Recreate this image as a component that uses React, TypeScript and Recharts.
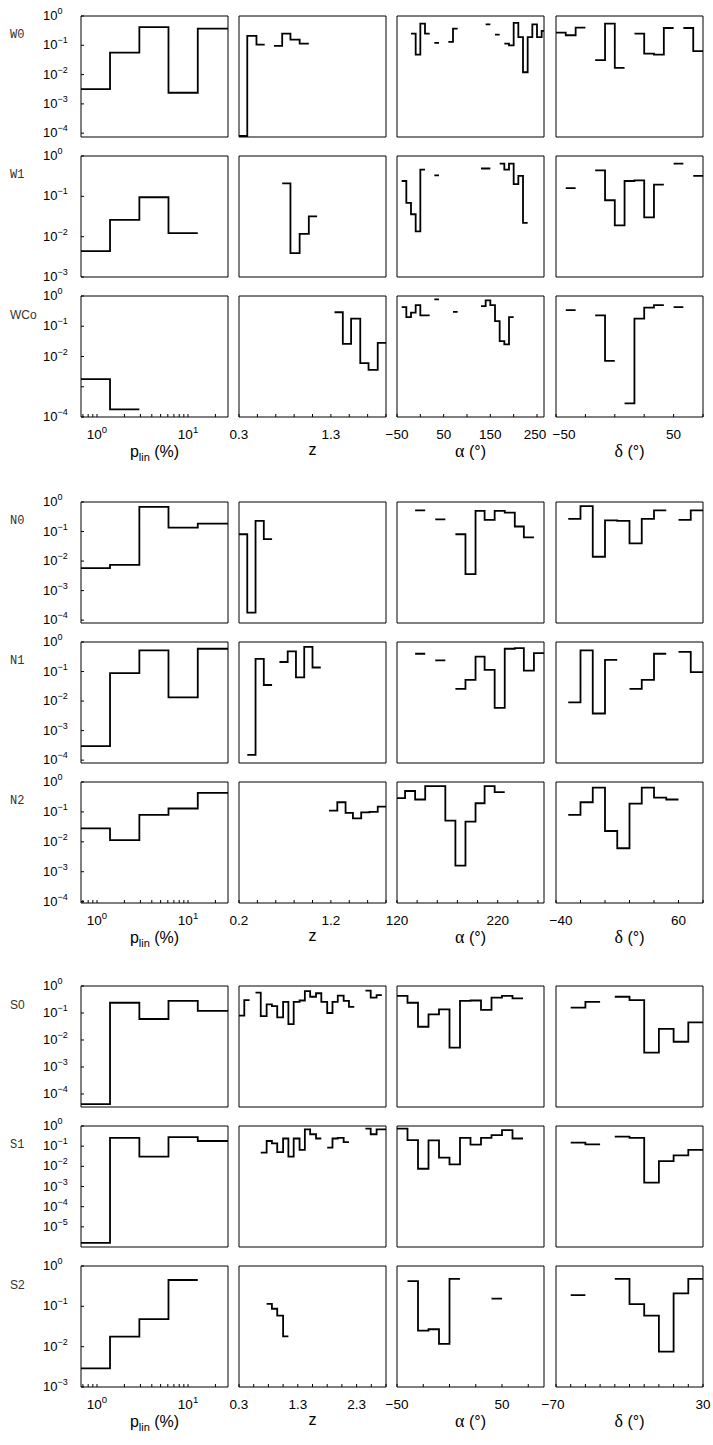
import React from "react";
import { LineChart, Line, XAxis, YAxis } from "recharts";

type Bin = [number, number, number];
type Ax = { domain: [number, number]; ticks: number[]; labels: number[]; log?: boolean; nudge?: [number, number][] };
type Yc = { domain: [number, number]; ticks: number[]; labels: number[] };

const SANS = "'Liberation Sans', Arial, Helvetica, sans-serif";
const MONO = "'Liberation Mono', 'DejaVu Sans Mono', monospace";
const SERIF = "'Liberation Serif', 'DejaVu Serif', serif";

// panel geometry
const PW = 147;
const PH = 121;
const COL_X = [81, 239, 397, 556];
const LW = 62;
const RW = 10;
const TH = 14;
const BH = 44;
const AXIS = { stroke: "#000", strokeWidth: 1 };

// ---- x axes ----
const PLIN_TICKS = [0.7, 0.8, 0.9, 1, 2, 3, 4, 5, 6, 7, 8, 9, 10, 20];
const PLIN_LABELS = [1, 10];

const W_Z_TICKS = [0.3, 0.5, 0.7, 0.9, 1.1, 1.3, 1.5, 1.7, 1.9];
const W_Z_LABELS = [0.3, 1.3];
const W_A_TICKS = [-50, 0, 50, 100, 150, 200, 250];
const W_A_LABELS = [-50, 50, 150, 250];
const W_D_TICKS = [-50, -25, 0, 25, 50, 75];
const W_D_LABELS = [-50, 50];

const N_Z_TICKS = [0.2, 0.4, 0.6, 0.8, 1.0, 1.2, 1.4, 1.6, 1.8];
const N_Z_LABELS = [0.2, 1.2];
const N_A_TICKS = [120, 140, 160, 180, 200, 220, 240, 260];
const N_A_LABELS = [120, 220];
const N_D_TICKS = [-40, -20, 0, 20, 40, 60, 80];
const N_D_LABELS = [-40, 60];

const S_Z_TICKS = [0.3, 0.55, 0.8, 1.05, 1.3, 1.55, 1.8, 2.05, 2.3, 2.55, 2.8];
const S_Z_LABELS = [0.3, 1.3, 2.3];
const S_A_TICKS = [-50, -25, 0, 25, 50, 75];
const S_A_LABELS = [-50, 50];
const S_D_TICKS = [-70, -60, -50, -40, -30, -20, -10, 0, 10, 20, 30];
const S_D_LABELS = [-70, 30];

// ---- y axes (log) ----
const DEC3 = [1, 0.1, 0.01, 1e-3];
const DEC4 = [1, 0.1, 0.01, 1e-3, 1e-4];
const DEC5 = [1, 0.1, 0.01, 1e-3, 1e-4, 1e-5];
const WCO_YLABELS = [1, 0.1, 0.01, 1e-4];

// ---- histogram bins: [from, to, fraction] ----
const W0_p: Bin[] = [[0.667, 1.39, 3.2e-3], [1.39, 2.92, 0.056], [2.92, 6.1, 0.42], [6.1, 12.8, 2.4e-3], [12.8, 27.5, 0.37]];
const W0_z: Bin[] = [[0.3, 0.39, 8e-5], [0.39, 0.49, 0.21], [0.49, 0.58, 0.105], [0.68, 0.77, 0.095], [0.77, 0.86, 0.25], [0.86, 0.96, 0.155], [0.96, 1.06, 0.114]];
const W0_a: Bin[] = [[-20, -10, 0.25], [-10, 0, 0.048], [0, 10, 0.55], [10, 20, 0.25], [30, 40, 0.12], [60, 70, 0.13], [70, 80, 0.37], [140, 150, 0.52], [160, 170, 0.23], [180, 190, 0.114], [190, 200, 0.1], [200, 210, 0.58], [210, 220, 0.19], [220, 230, 0.012], [230, 240, 0.19], [240, 250, 0.52], [250, 260, 0.19], [260, 270, 0.31]];
const W0_d: Bin[] = [[-50, -41.7, 0.27], [-41.7, -33.3, 0.22], [-33.3, -25, 0.4], [-16.7, -8.3, 0.031], [-8.3, 0, 0.55], [0, 8.3, 0.017], [16.7, 25, 0.25], [25, 33.3, 0.052], [33.3, 41.7, 0.048], [41.7, 50, 0.39], [58.3, 66.7, 0.39], [66.7, 75, 0.063]];

const W1_p: Bin[] = [[0.667, 1.39, 4.4e-3], [1.39, 2.92, 0.026], [2.92, 6.1, 0.095], [6.1, 12.8, 0.0123]];
const W1_z: Bin[] = [[0.77, 0.86, 0.21], [0.86, 0.96, 3.9e-3], [0.96, 1.06, 0.0117], [1.06, 1.15, 0.032]];
const W1_a: Bin[] = [[-40, -30, 0.24], [-30, -20, 0.069], [-20, -10, 0.036], [-10, 0, 0.0135], [0, 10, 0.46], [30, 40, 0.33], [130, 150, 0.49], [170, 180, 0.65], [180, 190, 0.46], [190, 200, 0.65], [200, 210, 0.2], [210, 220, 0.32], [220, 230, 0.022]];
const W1_d: Bin[] = [[-41.7, -33.3, 0.16], [-16.7, -8.3, 0.44], [-8.3, 0, 0.08], [0, 8.3, 0.019], [8.3, 16.7, 0.24], [16.7, 25, 0.25], [25, 33.3, 0.03], [33.3, 41.7, 0.195], [50, 58.3, 0.65], [66.7, 75, 0.32]];

const WCo_p: Bin[] = [[0.667, 1.39, 1.8e-3], [1.39, 2.92, 1.8e-4]];
const WCo_z: Bin[] = [[1.34, 1.43, 0.29], [1.43, 1.52, 0.026], [1.52, 1.62, 0.18], [1.62, 1.71, 6e-3], [1.71, 1.81, 3.6e-3], [1.81, 1.9, 0.028]];
const WCo_a: Bin[] = [[-40, -30, 0.43], [-30, -20, 0.2], [-20, -10, 0.28], [-10, 0, 0.5], [0, 20, 0.23], [30, 40, 0.77], [70, 80, 0.3], [130, 140, 0.46], [140, 150, 0.72], [150, 160, 0.5], [160, 170, 0.147], [170, 180, 0.032], [180, 190, 0.025], [190, 200, 0.2]];
const WCo_d: Bin[] = [[-41.7, -33.3, 0.34], [-16.7, -8.3, 0.23], [-8.3, 0, 7.2e-3], [8.3, 16.7, 2.8e-4], [16.7, 25, 0.18], [25, 33.3, 0.41], [33.3, 41.7, 0.5], [50, 58.3, 0.43]];

const N0_p: Bin[] = [[0.667, 1.39, 5.8e-3], [1.39, 2.92, 7.4e-3], [2.92, 6.1, 0.68], [6.1, 12.8, 0.136], [12.8, 27.5, 0.186]];
const N0_z: Bin[] = [[0.2, 0.29, 0.081], [0.29, 0.38, 1.8e-4], [0.38, 0.47, 0.23], [0.47, 0.56, 0.055]];
const N0_a: Bin[] = [[138, 148, 0.52], [158, 168, 0.26], [178, 188, 0.081], [188, 198, 3.6e-3], [198, 207, 0.5], [207, 217, 0.25], [217, 227, 0.5], [227, 237, 0.44], [237, 246, 0.148], [246, 256, 0.063]];
const N0_d: Bin[] = [[-30, -20, 0.27], [-20, -10, 0.73], [-10, 0, 0.014], [0, 10, 0.24], [10, 20, 0.23], [20, 30, 0.04], [30, 40, 0.27], [40, 50, 0.52], [60, 70, 0.25], [70, 80, 0.52]];

const N1_p: Bin[] = [[0.667, 1.39, 3e-4], [1.39, 2.92, 0.088], [2.92, 6.1, 0.52], [6.1, 12.8, 0.0133], [12.8, 27.5, 0.59]];
const N1_z: Bin[] = [[0.29, 0.38, 1.5e-4], [0.38, 0.47, 0.27], [0.47, 0.56, 0.035], [0.64, 0.73, 0.21], [0.73, 0.82, 0.48], [0.82, 0.91, 0.063], [0.91, 1.0, 0.68], [1.0, 1.09, 0.137]];
const N1_a: Bin[] = [[138, 148, 0.4], [158, 168, 0.24], [178, 188, 0.026], [188, 198, 0.052], [198, 207, 0.32], [207, 217, 0.114], [217, 227, 5.9e-3], [227, 237, 0.59], [237, 246, 0.62], [246, 256, 0.108], [256, 266, 0.42]];
const N1_d: Bin[] = [[-30, -20, 9e-3], [-20, -10, 0.52], [-10, 0, 3.8e-3], [0, 10, 0.25], [20, 30, 0.026], [30, 40, 0.052], [40, 50, 0.4], [60, 70, 0.46], [70, 80, 0.095]];

const N2_p: Bin[] = [[0.667, 1.39, 0.028], [1.39, 2.92, 0.0114], [2.92, 6.1, 0.079], [6.1, 12.8, 0.13], [12.8, 27.5, 0.43]];
const N2_z: Bin[] = [[1.18, 1.27, 0.11], [1.27, 1.36, 0.21], [1.36, 1.44, 0.093], [1.44, 1.53, 0.061], [1.53, 1.62, 0.097], [1.62, 1.71, 0.1], [1.71, 1.8, 0.15]];
const N2_a: Bin[] = [[120, 128, 0.29], [128, 138, 0.5], [138, 148, 0.26], [148, 168, 0.73], [168, 178, 0.051], [178, 188, 1.6e-3], [188, 198, 0.047], [198, 207, 0.195], [207, 217, 0.73], [217, 227, 0.46]];
const N2_d: Bin[] = [[-30, -20, 0.079], [-20, -10, 0.21], [-10, 0, 0.65], [0, 10, 0.023], [10, 20, 6.1e-3], [20, 30, 0.19], [30, 40, 0.65], [40, 50, 0.3], [50, 60, 0.26]];

const S0_p: Bin[] = [[0.667, 1.39, 4.2e-5], [1.39, 2.92, 0.24], [2.92, 6.1, 0.06], [6.1, 12.8, 0.28], [12.8, 27.5, 0.12]];
const S0_z: Bin[] = [[0.3, 0.39, 0.08], [0.39, 0.48, 0.3], [0.58, 0.67, 0.57], [0.67, 0.77, 0.077], [0.77, 0.86, 0.21], [0.86, 0.95, 0.18], [0.95, 1.05, 0.069], [1.05, 1.14, 0.26], [1.14, 1.23, 0.039], [1.23, 1.33, 0.26], [1.33, 1.42, 0.29], [1.42, 1.51, 0.65], [1.51, 1.61, 0.4], [1.61, 1.7, 0.54], [1.7, 1.8, 0.26], [1.8, 1.89, 0.1], [1.89, 1.98, 0.26], [1.98, 2.08, 0.44], [2.08, 2.17, 0.28], [2.17, 2.26, 0.17], [2.45, 2.54, 0.67], [2.54, 2.64, 0.37], [2.64, 2.73, 0.46]];
const S0_a: Bin[] = [[-50, -40, 0.43], [-40, -30, 0.24], [-30, -20, 0.031], [-20, -10, 0.089], [-10, 0, 0.137], [0, 10, 5.2e-3], [10, 20, 0.28], [20, 30, 0.29], [30, 40, 0.13], [40, 50, 0.37], [50, 60, 0.43], [60, 70, 0.35]];
const S0_d: Bin[] = [[-60, -50, 0.158], [-50, -40, 0.26], [-30, -20, 0.4], [-20, -10, 0.3], [-10, 0, 3.4e-3], [0, 10, 0.026], [10, 20, 8.6e-3], [20, 30, 0.045]];

const S1_p: Bin[] = [[0.667, 1.39, 1.6e-6], [1.39, 2.92, 0.26], [2.92, 6.1, 0.03], [6.1, 12.8, 0.28], [12.8, 27.5, 0.18]];
const S1_z: Bin[] = [[0.67, 0.77, 0.048], [0.77, 0.86, 0.18], [0.86, 0.95, 0.138], [0.95, 1.05, 0.051], [1.05, 1.14, 0.24], [1.14, 1.23, 0.03], [1.23, 1.33, 0.24], [1.33, 1.42, 0.065], [1.42, 1.51, 0.68], [1.51, 1.61, 0.39], [1.61, 1.7, 0.24], [1.8, 1.89, 0.085], [1.89, 1.98, 0.24], [1.98, 2.08, 0.26], [2.08, 2.17, 0.16], [2.45, 2.54, 0.74], [2.54, 2.64, 0.39], [2.64, 2.8, 0.68]];
const S1_a: Bin[] = [[-50, -40, 0.74], [-40, -30, 0.2], [-30, -20, 7.6e-3], [-20, -10, 0.195], [-10, 0, 0.027], [0, 10, 0.0126], [10, 20, 0.26], [20, 30, 0.12], [30, 40, 0.26], [40, 50, 0.35], [50, 60, 0.63], [60, 70, 0.24]];
const S1_d: Bin[] = [[-60, -50, 0.149], [-50, -40, 0.123], [-30, -20, 0.3], [-20, -10, 0.26], [-10, 0, 1.55e-3], [0, 10, 0.018], [10, 20, 0.035], [20, 30, 0.065]];

const S2_p: Bin[] = [[0.667, 1.39, 2.9e-3], [1.39, 2.92, 0.0178], [2.92, 6.1, 0.048], [6.1, 12.8, 0.45]];
const S2_z: Bin[] = [[0.77, 0.86, 0.115], [0.86, 0.95, 0.087], [0.95, 1.05, 0.059], [1.05, 1.14, 0.018]];
const S2_a: Bin[] = [[-40, -30, 0.42], [-30, -20, 0.025], [-20, -10, 0.027], [-10, 0, 0.0117], [0, 10, 0.48], [40, 50, 0.155]];
const S2_d: Bin[] = [[-60, -50, 0.19], [-30, -20, 0.48], [-20, -10, 0.114], [-10, 0, 0.059], [0, 10, 7.5e-3], [10, 20, 0.21], [20, 30, 0.48]];

// axis sets per group (nudge = small label offsets where neighbouring labels meet)
const PLIN_AX: Ax = { domain: [0.667, 27.5], ticks: PLIN_TICKS, labels: PLIN_LABELS, log: true };
const W_AXES: Ax[] = [
  PLIN_AX,
  { domain: [0.3, 1.9], ticks: W_Z_TICKS, labels: W_Z_LABELS },
  { domain: [-50, 265], ticks: W_A_TICKS, labels: W_A_LABELS, nudge: [[250, -2]] },
  { domain: [-50, 75], ticks: W_D_TICKS, labels: W_D_LABELS, nudge: [[-50, 8]] },
];
const N_AXES: Ax[] = [
  PLIN_AX,
  { domain: [0.2, 1.8], ticks: N_Z_TICKS, labels: N_Z_LABELS },
  { domain: [120, 266], ticks: N_A_TICKS, labels: N_A_LABELS },
  { domain: [-40, 80], ticks: N_D_TICKS, labels: N_D_LABELS, nudge: [[-40, 5]] },
];
const S_AXES: Ax[] = [
  PLIN_AX,
  { domain: [0.3, 2.8], ticks: S_Z_TICKS, labels: S_Z_LABELS },
  { domain: [-50, 90], ticks: S_A_TICKS, labels: S_A_LABELS },
  { domain: [-70, 30], ticks: S_D_TICKS, labels: S_D_LABELS, nudge: [[-70, -3]] },
];

const ROWS = [
  { name: "W0", font: MONO, top: 16, axes: W_AXES, last: false, bins: [W0_p, W0_z, W0_a, W0_d], y: { domain: [7.4e-5, 1], ticks: DEC4, labels: DEC4 } },
  { name: "W1", font: MONO, top: 156, axes: W_AXES, last: false, bins: [W1_p, W1_z, W1_a, W1_d], y: { domain: [1e-3, 1], ticks: DEC3, labels: DEC3 } },
  { name: "WCo", font: SANS, top: 296, axes: W_AXES, last: true, bins: [WCo_p, WCo_z, WCo_a, WCo_d], y: { domain: [1e-4, 1], ticks: DEC4, labels: WCO_YLABELS } },
  { name: "N0", font: MONO, top: 502, axes: N_AXES, last: false, bins: [N0_p, N0_z, N0_a, N0_d], y: { domain: [8e-5, 1], ticks: DEC4, labels: DEC4 } },
  { name: "N1", font: MONO, top: 642, axes: N_AXES, last: false, bins: [N1_p, N1_z, N1_a, N1_d], y: { domain: [8e-5, 1], ticks: DEC4, labels: DEC4 } },
  { name: "N2", font: MONO, top: 782, axes: N_AXES, last: true, bins: [N2_p, N2_z, N2_a, N2_d], y: { domain: [9e-5, 1], ticks: DEC4, labels: DEC4 } },
  { name: "S0", font: SANS, top: 986, axes: S_AXES, last: false, bins: [S0_p, S0_z, S0_a, S0_d], y: { domain: [3.3e-5, 1], ticks: DEC4, labels: DEC4 } },
  { name: "S1", font: MONO, top: 1126, axes: S_AXES, last: false, bins: [S1_p, S1_z, S1_a, S1_d], y: { domain: [1e-6, 1], ticks: DEC5, labels: DEC5 } },
  { name: "S2", font: SANS, top: 1266, axes: S_AXES, last: true, bins: [S2_p, S2_z, S2_a, S2_d], y: { domain: [1e-3, 1], ticks: DEC3, labels: DEC3 } },
];

const GROUP_BOTTOMS = [417, 903, 1387];

function toSteps(bins: Bin[]) {
  const pts: { x: number; y: number | null }[] = [];
  bins.forEach(([a, b, v], i) => {
    const prev = bins[i - 1];
    if (prev && prev[1] !== a) pts.push({ x: prev[1], y: null });
    pts.push({ x: a, y: v });
    const next = bins[i + 1];
    if (!next || next[0] !== b) pts.push({ x: b, y: v });
  });
  return pts;
}

const near = (list: number[], v: number) =>
  list.some((l) => Math.abs(l - v) <= 1e-9 * Math.abs(l) + 1e-12);

const fmt = (v: number) => (v < 0 ? "\u2212" + String(-v) : String(v));
const expStr = (v: number) => {
  const e = Math.round(Math.log10(v));
  return e < 0 ? "\u2212" + -e : String(e);
};

const xTick = (ax: Ax) => (p: any) => {
  const v = p.payload.value;
  if (!near(ax.labels, v)) return <g />;
  const n = (ax.nudge || []).find(([k]) => k === v);
  const x = p.x + (n ? n[1] : 0);
  if (ax.log) {
    return (
      <text x={x} y={p.y} textAnchor="middle" fontSize={13.5} fontFamily={SANS} fill="#000">
        10<tspan dy={-6} fontSize={9.5}>{expStr(v)}</tspan>
      </text>
    );
  }
  return (
    <text x={x} y={p.y} textAnchor="middle" fontSize={13.5} fontFamily={SANS} fill="#000">
      {fmt(v)}
    </text>
  );
};

const yTick = (labels: number[]) => (p: any) => {
  const v = p.payload.value;
  if (!near(labels, v)) return <g />;
  return (
    <text x={p.x} y={p.y + 4} textAnchor="start" fontSize={13} fontFamily={SANS} fill="#000">
      10<tspan dy={-6} fontSize={9}>{expStr(v)}</tspan>
    </text>
  );
};

function Panel({ bins, ax, yc, left, top, xLab, yLab }: { bins: Bin[]; ax: Ax; yc: Yc; left: number; top: number; xLab: boolean; yLab: boolean }) {
  const data = toSteps(bins);
  const xScale = ax.log ? "log" : "linear";
  return (
    <div style={{ position: "absolute", left: left - LW, top: top - TH }}>
      <LineChart width={LW + PW + RW} height={TH + PH + BH} data={data} margin={{ top: 0, right: 0, bottom: 0, left: 0 }}>
        <XAxis xAxisId="b" dataKey="x" type="number" scale={xScale} domain={ax.domain} allowDataOverflow ticks={ax.ticks} interval={0} height={BH} tickSize={-3} tickMargin={25} axisLine={AXIS} tickLine={AXIS} tick={xLab ? xTick(ax) : false} />
        <XAxis xAxisId="t" orientation="top" dataKey="x" type="number" scale={xScale} domain={ax.domain} allowDataOverflow ticks={ax.ticks} interval={0} height={TH} tickSize={-3} axisLine={AXIS} tickLine={AXIS} tick={false} />
        <YAxis yAxisId="l" type="number" scale="log" domain={yc.domain} allowDataOverflow ticks={yc.ticks} interval={0} width={LW} tickSize={-3} tickMargin={41} axisLine={AXIS} tickLine={AXIS} tick={yLab ? yTick(yc.labels) : false} />
        <YAxis yAxisId="r" orientation="right" type="number" scale="log" domain={yc.domain} allowDataOverflow ticks={yc.ticks} interval={0} width={RW} tickSize={-3} axisLine={AXIS} tickLine={AXIS} tick={false} />
        <Line xAxisId="b" yAxisId="l" dataKey="y" type="stepAfter" stroke="#000" strokeWidth={1.8} dot={false} activeDot={false} isAnimationActive={false} connectNulls={false} />
      </LineChart>
    </div>
  );
}

const titleStyle = (cx: number, cy: number): React.CSSProperties => ({
  position: "absolute",
  left: cx,
  top: cy,
  transform: "translate(-50%, -50%)",
  fontFamily: SANS,
  fontSize: 16,
  whiteSpace: "nowrap",
  color: "#000",
});

export default function App() {
  return (
    <div style={{ position: "absolute", left: 0, top: 0, width: 713, height: 1445, background: "#fff", overflow: "hidden" }}>
      <style>{`svg.recharts-surface{overflow:visible}`}</style>
      {ROWS.map((r) => (
        <React.Fragment key={r.name}>
          <div style={{ position: "absolute", left: 10, top: r.top + 12, fontFamily: r.font, fontSize: 12, color: "#333" }}>{r.name}</div>
          {r.bins.map((b, c) => (
            <Panel key={c} bins={b} ax={r.axes[c]} yc={r.y as Yc} left={COL_X[c]} top={r.top} xLab={r.last} yLab={c === 0} />
          ))}
        </React.Fragment>
      ))}
      {GROUP_BOTTOMS.map((gb) => (
        <React.Fragment key={gb}>
          <div style={titleStyle(COL_X[0] + PW / 2, gb + 36)}>
            p<sub style={{ fontSize: 11 }}>lin</sub> (%)
          </div>
          <div style={titleStyle(COL_X[1] + PW / 2, gb + 33)}>z</div>
          <div style={titleStyle(COL_X[2] + PW / 2, gb + 34)}>
            <span style={{ fontFamily: SERIF, fontSize: 18 }}>α</span> (°)
          </div>
          <div style={titleStyle(COL_X[3] + PW / 2, gb + 34)}>
            <span style={{ fontFamily: SERIF, fontSize: 18 }}>δ</span> (°)
          </div>
        </React.Fragment>
      ))}
    </div>
  );
}
